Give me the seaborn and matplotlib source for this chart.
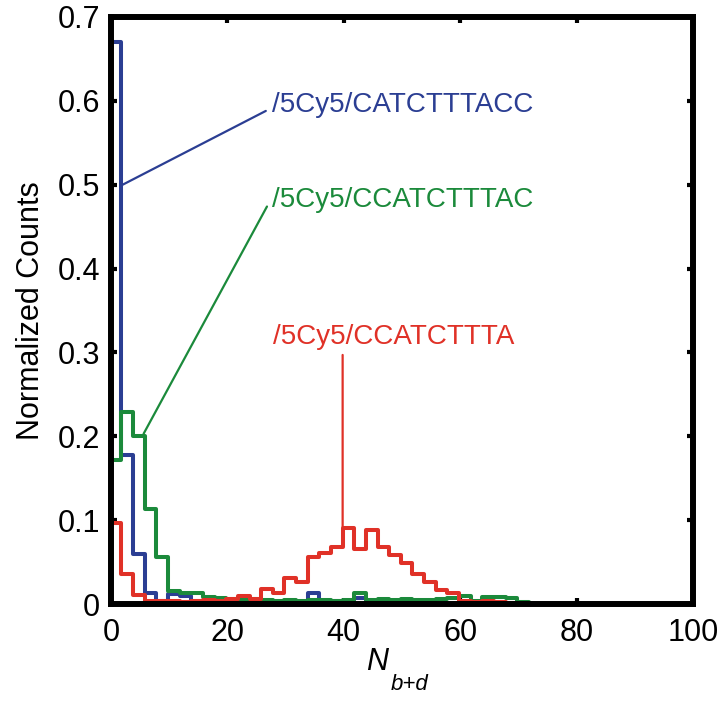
import numpy as np
import pandas as pd
import matplotlib
matplotlib.use("Agg")
import matplotlib.pyplot as plt
import seaborn as sns

# ---------------- data ----------------
bin_edges = [0.0] + [2 * k - 0.2 for k in range(1, 51)] + [100.0]

blue_counts = [0.670, 0.178, 0.060, 0.013, 0.004, 0.012, 0.010, 0.004, 0.003, 0.002,
               0.003, 0.002, 0.002, 0.003, 0.002, 0.003, 0.002, 0.013, 0.004, 0.003,
               0.002, 0.007, 0.002, 0.002, 0.001, 0.001]
green_counts = [0.172, 0.229, 0.200, 0.113, 0.056, 0.016, 0.013, 0.013, 0.008, 0.007,
                0.006, 0.005, 0.006, 0.005, 0.004, 0.005, 0.004, 0.005, 0.005, 0.004,
                0.005, 0.013, 0.005, 0.006, 0.005, 0.006, 0.005, 0.005, 0.006, 0.007,
                0.009, 0.004, 0.008, 0.008, 0.007, 0.002]
red_counts = [0.096, 0.036, 0.011, 0.004, 0.003, 0.003, 0.002, 0.003, 0.005, 0.004,
              0.006, 0.010, 0.006, 0.018, 0.013, 0.031, 0.026, 0.056, 0.061, 0.068,
              0.091, 0.066, 0.088, 0.068, 0.058, 0.049, 0.036, 0.026, 0.017, 0.013,
              0.003, 0.002, 0.003, 0.002, 0.001]

series_names = ["/5Cy5/CATCTTTACC", "/5Cy5/CCATCTTTAC", "/5Cy5/CCATCTTTA"]
series_colors = ["#2B3E93", "#1B8A3B", "#E03127"]

x_ticks = [0, 20, 40, 60, 80, 100]
x_tick_labels = ["0", "20", "40", "60", "80", "100"]
y_ticks = [0, 0.1, 0.2, 0.3, 0.4, 0.5, 0.6, 0.7]
y_tick_labels = ["0", "0.1", "0.2", "0.3", "0.4", "0.5", "0.6", "0.7"]

x_label_main = "N"
x_label_sub = "b+d"
y_label = "Normalized Counts"

# annotation leader lines: (x0, y0, x1, y1) and label anchor (x, y)
leader_lines = [(2.0, 0.500, 26.6, 0.588),
                (5.6, 0.203, 26.8, 0.474),
                (39.8, 0.092, 39.8, 0.297)]
label_anchors = [(27.6, 0.595), (27.6, 0.482), (27.9, 0.318)]

# ---------------- style ----------------
sns.set_style("white")
plt.rcParams["font.family"] = ["Liberation Sans", "DejaVu Sans"]

W, H = 724, 704
fig = plt.figure(figsize=(W / 100, H / 100), dpi=100)
ax = fig.add_axes([111 / W, 100 / H, 582 / W, 587 / H])

nbins = len(bin_edges) - 1
centers = [(bin_edges[i] + bin_edges[i + 1]) / 2 for i in range(nbins)]

for name, counts, color in zip(series_names, [blue_counts, green_counts, red_counts], series_colors):
    vals = list(counts) + [0.0] * (nbins - len(counts))
    df = pd.DataFrame({"x": centers, "w": vals})
    sns.histplot(data=df, x="x", weights="w", bins=bin_edges, element="step",
                 fill=False, color=color, linewidth=2.9, ax=ax, legend=False)

for (x0, y0, x1, y1), color in zip(leader_lines, series_colors):
    ax.annotate("", xy=(x0, y0), xytext=(x1, y1),
                arrowprops=dict(arrowstyle="-", color=color, lw=1.6,
                                shrinkA=0, shrinkB=0))

for name, (tx, ty), color in zip(series_names, label_anchors, series_colors):
    ax.text(tx, ty, name, color=color, fontsize=20, ha="left", va="center")

ax.set_xlim(0, 100)
ax.set_ylim(0, 0.7)
ax.set_xticks(x_ticks)
ax.set_xticklabels(x_tick_labels)
ax.set_yticks(y_ticks)
ax.set_yticklabels(y_tick_labels)

for s in ax.spines.values():
    s.set_linewidth(4.3)
    s.set_color("black")
    s.set_visible(True)

ax.tick_params(direction="in", length=4, width=3, top=True, right=True,
               bottom=True, left=True, labelsize=22, colors="black")
ax.tick_params(axis="x", pad=10)
ax.tick_params(axis="y", pad=8)

# x label: italic N with a lowered italic subscript
ax.set_xlabel("")
fig.text(366 / W, 1 - 670 / H, x_label_main, fontsize=22, style="italic",
         color="black", ha="left", va="baseline")
fig.text(391 / W, 1 - 690 / H, x_label_sub, fontsize=16, style="italic",
         color="black", ha="left", va="baseline")

ax.set_ylabel(y_label, fontsize=22, color="black", labelpad=8)

fig.savefig("out.png", dpi=100)
